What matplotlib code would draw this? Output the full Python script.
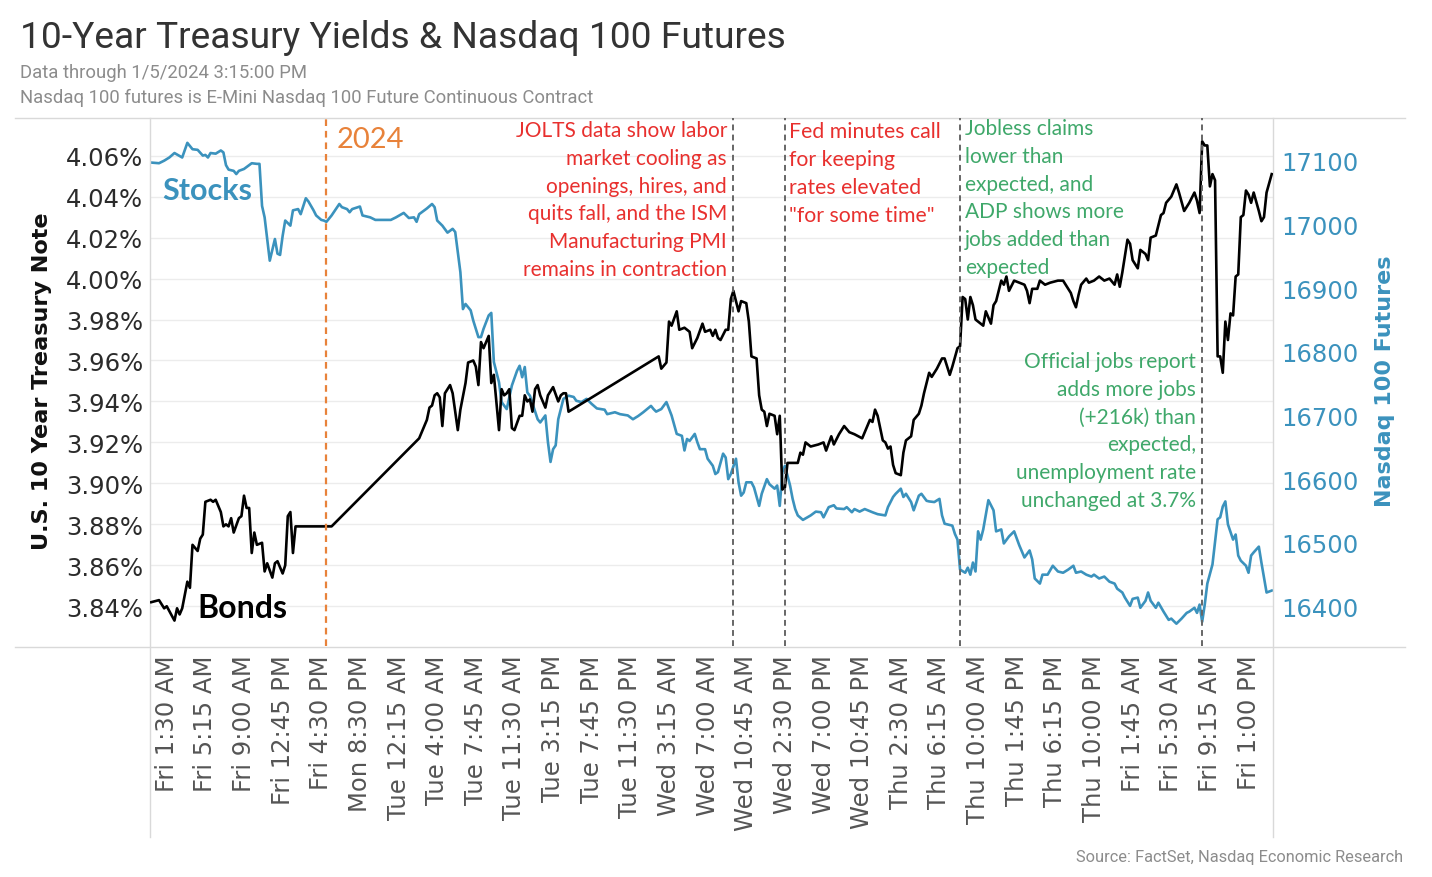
import matplotlib
matplotlib.use('Agg')
import matplotlib.pyplot as plt
from matplotlib.lines import Line2D
from matplotlib.transforms import blended_transform_factory

plt.rcParams['font.family'] = ['DejaVu Sans']

# ---------------- data ----------------
# x = 15-minute trading step number (0 = Fri 12/29 12:00 AM ... 435 = Fri 1/5 3:15 PM)
tick_labels = ["Fri 1:30 AM", "Fri 5:15 AM", "Fri 9:00 AM", "Fri 12:45 PM", "Fri 4:30 PM",
               "Mon 8:30 PM", "Tue 12:15 AM", "Tue 4:00 AM", "Tue 7:45 AM", "Tue 11:30 AM",
               "Tue 3:15 PM", "Tue 7:45 PM", "Tue 11:30 PM", "Wed 3:15 AM", "Wed 7:00 AM",
               "Wed 10:45 AM", "Wed 2:30 PM", "Wed 7:00 PM", "Wed 10:45 PM", "Thu 2:30 AM",
               "Thu 6:15 AM", "Thu 10:00 AM", "Thu 1:45 PM", "Thu 6:15 PM", "Thu 10:00 PM",
               "Fri 1:45 AM", "Fri 5:30 AM", "Fri 9:15 AM", "Fri 1:00 PM"]
tick_steps = [6 + 15 * k for k in range(len(tick_labels))]
n_steps = 436

bond_x = [0, 3, 5, 6, 9, 10, 11, 12, 14, 15, 16, 18, 19, 20, 21, 23, 24, 25, 27, 28, 29, 30, 31, 32,
          34, 35, 36, 37, 38, 39, 40, 41, 43, 44, 45, 47, 48, 49, 51, 52, 53, 54, 55, 56, 70,
          104, 107, 108, 109, 110, 111, 112, 113, 114, 116, 117, 119, 120, 122, 123, 125, 126, 127,
          128, 129, 130, 131, 132, 133, 135, 136, 137, 138, 139, 140, 141, 143, 144, 145, 146, 147,
          148, 149, 150, 151, 153, 154, 155, 156, 158, 159, 160, 161, 162,
          197, 198, 200, 201, 202, 204, 205, 207, 209, 210, 212, 214, 215, 217, 218, 219, 220, 221,
          223, 224, 225, 226, 228, 229, 231, 232, 233, 235, 236, 237, 238, 239, 240, 242, 243, 244,
          245, 246, 247, 249, 251, 252, 253, 254, 256, 259, 261, 262, 264, 265, 267, 269, 271, 273,
          276, 277, 279, 280, 281, 282, 284, 285, 286, 287, 288, 289, 291, 292, 293, 295, 296, 298,
          299, 300, 302, 303, 305, 307, 308, 310, 311, 313, 314, 315, 316, 317, 318, 319, 320, 322,
          323, 324, 326, 327, 328, 330, 331, 332, 333, 335, 337, 339, 340, 341, 342, 344, 345, 347,
          349, 352, 354, 355, 357, 358, 359, 360, 361, 363, 364, 366, 368, 370, 372, 374, 375, 376,
          377, 379, 380, 381, 383, 384, 386, 387, 388, 390, 392, 393, 394, 396, 398, 399, 401, 403,
          405, 406, 407, 408, 409, 410, 411, 412, 413, 414, 415, 416, 417, 418, 419, 420, 421, 422,
          423, 424, 425, 426, 427, 428, 430, 431, 432, 433, 435]
bond_yield = [3.842, 3.843, 3.839, 3.840, 3.833, 3.839, 3.836, 3.839, 3.852, 3.849, 3.870, 3.867,
              3.873, 3.875, 3.891, 3.892, 3.891, 3.892, 3.886, 3.879, 3.880, 3.879, 3.883, 3.876,
              3.883, 3.884, 3.894, 3.888, 3.888, 3.866, 3.876, 3.870, 3.871, 3.857, 3.861, 3.854,
              3.861, 3.862, 3.856, 3.860, 3.884, 3.886, 3.866, 3.879, 3.879,
              3.922, 3.931, 3.937, 3.938, 3.943, 3.944, 3.942, 3.928, 3.944, 3.948, 3.944, 3.926,
              3.936, 3.949, 3.959, 3.960, 3.957, 3.948, 3.969, 3.966, 3.969, 3.972, 3.949, 3.953,
              3.926, 3.946, 3.943, 3.944, 3.946, 3.927, 3.926, 3.933, 3.933, 3.943, 3.940, 3.941,
              3.935, 3.946, 3.948, 3.943, 3.937, 3.943, 3.945, 3.947, 3.940, 3.943, 3.944, 3.944,
              3.935,
              3.962, 3.956, 3.959, 3.979, 3.977, 3.984, 3.975, 3.976, 3.974, 3.966, 3.971, 3.978,
              3.974, 3.975, 3.972, 3.975, 3.971, 3.970, 3.975, 3.975, 3.990, 3.994, 3.984, 3.989,
              3.988, 3.979, 3.962, 3.961, 3.943, 3.936, 3.935, 3.928, 3.934, 3.933, 3.924, 3.933,
              3.897, 3.898, 3.910, 3.910, 3.910, 3.915, 3.914, 3.920, 3.918, 3.919, 3.920, 3.916,
              3.923, 3.919, 3.924, 3.928, 3.925, 3.924, 3.922, 3.925, 3.931, 3.930, 3.936, 3.933,
              3.921, 3.920, 3.917, 3.918, 3.909, 3.905, 3.904, 3.915, 3.921, 3.923, 3.931, 3.934,
              3.938, 3.944, 3.954, 3.952, 3.956, 3.961, 3.961, 3.953, 3.957, 3.966, 3.967, 3.991,
              3.990, 3.980, 3.991, 3.987, 3.980, 3.978, 3.977, 3.984, 3.978, 3.987, 3.989, 3.999,
              3.997, 4.001, 3.994, 3.999, 3.998, 3.997, 3.994, 3.988, 3.995, 3.995, 3.999, 3.997,
              3.998, 3.999, 3.999, 3.997, 3.993, 3.989, 3.986, 3.992, 3.997, 4.000, 3.998, 3.999,
              4.001, 3.999, 4.000, 3.997, 4.002, 3.996, 4.003, 4.019, 4.017, 4.009, 4.005, 4.014,
              4.012, 4.009, 4.020, 4.021, 4.031, 4.032, 4.037, 4.040, 4.046, 4.042, 4.033, 4.037,
              4.042, 4.038, 4.032, 4.067, 4.065, 4.065, 4.045, 4.051, 4.048, 3.962, 3.962, 3.954,
              3.979, 3.970, 3.983, 3.982, 4.001, 4.002, 4.030, 4.031, 4.043, 4.041, 4.037, 4.042,
              4.033, 4.028, 4.030, 4.042, 4.051]

stock_x = [0, 3, 5, 7, 9, 12, 14, 16, 18, 20, 21, 22, 23, 25, 27, 28, 29, 30, 32, 33, 34, 36, 37,
           39, 41, 42, 43, 44, 46, 48, 49, 50, 51, 52, 54, 55, 57, 58, 60, 61, 63, 64, 66, 67, 68,
           70, 73, 74, 76, 77, 78, 81, 82, 85, 87, 90, 93, 95, 98, 100, 102, 103, 104, 105, 107,
           109, 110, 111, 113, 115, 116, 117, 118, 120, 121, 122, 124, 125, 127, 128, 129, 131, 132,
           133, 135, 136, 138, 140, 142, 143, 144, 145, 146, 147, 150, 151, 153, 154, 155, 156, 157,
           158, 160, 162, 164, 165, 167, 169, 171, 173, 176, 177, 180, 182, 185, 187, 189, 191, 194,
           195, 196, 198, 200, 202, 204, 206, 207, 208, 209, 211, 212, 213, 215, 216, 218, 219, 220,
           222, 223, 224, 225, 227, 228, 229, 230, 231, 233, 234, 236, 237, 239, 240, 242, 243, 244,
           245, 246, 248, 249, 250, 251, 253, 256, 258, 260, 261, 263, 265, 266, 269, 270, 272, 273,
           275, 277, 280, 282, 285, 286, 288, 289, 291, 292, 293, 295, 296, 298, 299, 301, 302, 304,
           306, 307, 308, 310, 311, 312, 313, 314, 316, 317, 318, 319, 320, 321, 322, 323, 325, 327,
           328, 330, 331, 333, 335, 337, 339, 341, 342, 343, 345, 346, 348, 350, 352, 354, 356, 358,
           359, 361, 363, 365, 366, 368, 370, 372, 374, 375, 377, 378, 380, 381, 383, 384, 386, 387,
           388, 390, 391, 393, 395, 396, 398, 400, 402, 403, 405, 406, 407, 408, 409, 410, 412, 414,
           415, 416, 417, 418, 420, 421, 422, 423, 425, 426, 427, 428, 430, 431, 433, 435]
stock_price = [17097, 17096, 17100, 17105, 17112, 17105, 17128, 17118, 17117, 17108, 17109, 17105,
               17112, 17111, 17116, 17113, 17093, 17086, 17084, 17079, 17084, 17087, 17090, 17096,
               17095, 17095, 17029, 17011, 16943, 16977, 16954, 16952, 16982, 17006, 16998, 17022,
               17024, 17016, 17041, 17036, 17022, 17014, 17007, 17006, 17004, 17014, 17032, 17027,
               17024, 17019, 17024, 17028, 17014, 17011, 17007, 17007, 17007, 17011, 17018, 17010,
               17011, 17004, 17016, 17019, 17025, 17032, 17027, 17006, 16998, 16987, 16990, 16993,
               16988, 16925, 16867, 16875, 16865, 16849, 16823, 16823, 16836, 16857, 16861, 16784,
               16752, 16721, 16710, 16747, 16770, 16778, 16760, 16776, 16736, 16731, 16694, 16689,
               16700, 16658, 16627, 16647, 16653, 16694, 16726, 16731, 16729, 16723, 16721, 16726,
               16718, 16711, 16709, 16702, 16705, 16702, 16700, 16694, 16699, 16705, 16715, 16710,
               16706, 16710, 16721, 16700, 16671, 16668, 16645, 16663, 16660, 16671, 16658, 16647,
               16647, 16632, 16621, 16608, 16611, 16640, 16634, 16600, 16608, 16632, 16595, 16574,
               16579, 16595, 16595, 16587, 16558, 16577, 16600, 16592, 16585, 16590, 16558, 16611,
               16621, 16590, 16569, 16553, 16543, 16536, 16543, 16549, 16548, 16540, 16556, 16559,
               16554, 16553, 16556, 16548, 16553, 16549, 16553, 16548, 16545, 16543, 16556, 16572,
               16577, 16585, 16572, 16577, 16564, 16551, 16574, 16577, 16566, 16565, 16564, 16569,
               16543, 16530, 16528, 16527, 16514, 16505, 16458, 16453, 16461, 16450, 16469, 16455,
               16518, 16505, 16521, 16567, 16551, 16518, 16521, 16499, 16510, 16518, 16496, 16477,
               16488, 16474, 16444, 16436, 16450, 16450, 16464, 16455, 16453, 16458, 16464, 16453,
               16455, 16450, 16447, 16450, 16444, 16447, 16439, 16436, 16428, 16422, 16414, 16401,
               16412, 16414, 16398, 16409, 16422, 16409, 16398, 16406, 16392, 16379, 16381, 16373,
               16381, 16390, 16392, 16398, 16390, 16403, 16376, 16403, 16436, 16466, 16537, 16540,
               16557, 16565, 16529, 16505, 16513, 16480, 16472, 16464, 16453, 16480, 16485, 16494,
               16469, 16422, 16425]

yield_ticks = [3.84, 3.86, 3.88, 3.90, 3.92, 3.94, 3.96, 3.98, 4.00, 4.02, 4.04, 4.06]
price_ticks = [16400, 16500, 16600, 16700, 16800, 16900, 17000, 17100]
new_year_step = 68
event_steps = [226, 246, 314, 408]

# ---------------- style ----------------
BLUE = '#3b92bd'
RED = '#e8302e'
GREEN = '#3fa86a'
ORANGE = '#e8823a'
GRID = '#ececec'
FRAME = '#d9d9d9'
ANN_FONT = ['Lato', 'DejaVu Sans']
HEAD_FONT = ['Roboto', 'DejaVu Sans']

W, H = 1432, 878
fig = plt.figure(figsize=(W / 100, H / 100), dpi=100)
fig.patch.set_facecolor('white')
L, R, T, B = 150, 1273, 119, 647
rect = [L / W, 1 - B / H, (R - L) / W, (B - T) / H]

axg = fig.add_axes(rect, zorder=0)   # gridlines only
ax2 = fig.add_axes(rect, zorder=1)   # stocks (right axis)
ax = fig.add_axes(rect, zorder=2)    # bonds (left axis)
for a in (axg, ax2, ax):
    a.set_xlim(-0.5, n_steps - 0.5)
    for s in a.spines.values():
        s.set_visible(False)
ax.patch.set_visible(False)
ax2.patch.set_visible(False)

ylo, yhi = 3.8206, 4.0784
axg.set_ylim(ylo, yhi)
ax.set_ylim(ylo, yhi)
ax2.set_ylim(16338, 17167)

axg.set_yticks(yield_ticks)
axg.set_xticks([])
axg.grid(axis='y', color=GRID, lw=1.0)
axg.tick_params(left=False, labelleft=False)

ax2.plot(stock_x, stock_price, color=BLUE, lw=1.9, solid_joinstyle='round')
ax.plot(bond_x, bond_yield, color='black', lw=1.9, solid_joinstyle='round')

# vertical event lines
ax.axvline(new_year_step, color=ORANGE, lw=1.6, ls=(0, (3, 2.2)))
for s in event_steps:
    ax.axvline(s, color='#666666', lw=1.4, ls=(0, (3, 2.2)))

# left axis
ax.set_yticks(yield_ticks)
ax.set_yticklabels([f"{v:.2f}%" for v in yield_ticks])
ax.tick_params(axis='y', length=0, pad=5, labelsize=17.5, labelcolor='#2b2b2b')
# right axis
ax2.yaxis.tick_right()
ax2.set_yticks(price_ticks)
ax2.set_yticklabels([str(v) for v in price_ticks])
ax2.tick_params(axis='y', length=0, pad=6, labelsize=17.5, labelcolor=BLUE, left=False,
                labelleft=False, right=False, labelright=True)
ax2.set_xticks([])
# x axis
ax.set_xticks(tick_steps)
ax.set_xticklabels(tick_labels, rotation=90, va='top', ha='center')
ax.tick_params(axis='x', length=0, pad=6, labelsize=17.5, labelcolor='#555555')

# axis titles
fig.text(42 / W, 1 - 381 / H, "U.S. 10 Year Treasury Note", rotation=90, ha='center',
         va='center', fontsize=16.1, fontweight='bold', color='#111111')
fig.text(1385 / W, 1 - 381 / H, "Nasdaq 100 Futures", rotation=90, ha='center',
         va='center', fontsize=16, fontweight='bold', color=BLUE)

# frame lines
def fline(x0, y0, x1, y1):
    fig.add_artist(Line2D([x0 / W, x1 / W], [1 - y0 / H, 1 - y1 / H], transform=fig.transFigure,
                          color=FRAME, lw=1.0))
fline(15, 119, 1405, 119)
fline(15, 648, 1405, 648)
fline(150, 119, 150, 838)
fline(1273, 119, 1273, 838)

# titles
fig.text(20 / W, 1 - 38 / H, "10-Year Treasury Yields & Nasdaq 100 Futures", ha='left', va='center',
         fontsize=26.7, family=HEAD_FONT, color='#333333')
fig.text(20 / W, 1 - 73 / H, "Data through 1/5/2024 3:15:00 PM", ha='left', va='center',
         fontsize=13.3, family=HEAD_FONT, color='#8c8c8c')
fig.text(20 / W, 1 - 98 / H, "Nasdaq 100 futures is E-Mini Nasdaq 100 Future Continuous Contract",
         ha='left', va='center', fontsize=13.3, family=HEAD_FONT, color='#8c8c8c')
fig.text(1403 / W, 1 - 858 / H, "Source: FactSet, Nasdaq Economic Research", ha='right',
         va='center', fontsize=11.8, family=HEAD_FONT, color='#8c8c8c')

# annotations
tr = blended_transform_factory(ax.transData, ax.transAxes)

def block(x_step, y_first_px, lines, spacing, ha, color, size, weight='normal'):
    for k, line in enumerate(lines):
        ypx = y_first_px + k * spacing
        ax.text(x_step, (B - ypx) / (B - T), line, transform=tr, ha=ha, va='center',
                fontsize=size, color=color, family=ANN_FONT, fontweight=weight)

block(223.5, 131, ["JOLTS data show labor", "market cooling as", "openings, hires, and",
                   "quits fall, and the ISM", "Manufacturing PMI", "remains in contraction"],
      27.8, 'right', RED, 15)
block(247.6, 132, ["Fed minutes call", "for keeping", "rates elevated", "\"for some time\""],
      28, 'left', RED, 15.3)
block(315.8, 129, ["Jobless claims", "lower than", "expected, and", "ADP shows more",
                   "jobs added than", "expected"], 27.8, 'left', GREEN, 15)
block(405.7, 362, ["Official jobs report", "adds more jobs", "(+216k) than", "expected,",
                   "unemployment rate", "unchanged at 3.7%"], 27.8, 'right', GREEN, 15)
block(72, 140, ["2024"], 0, 'left', ORANGE, 21)
block(4.2, 191, ["Stocks"], 0, 'left', BLUE, 22, 'bold')
block(17.8, 608, ["Bonds"], 0, 'left', 'black', 23, 'bold')

fig.savefig('out.png', dpi=100, facecolor='white')
